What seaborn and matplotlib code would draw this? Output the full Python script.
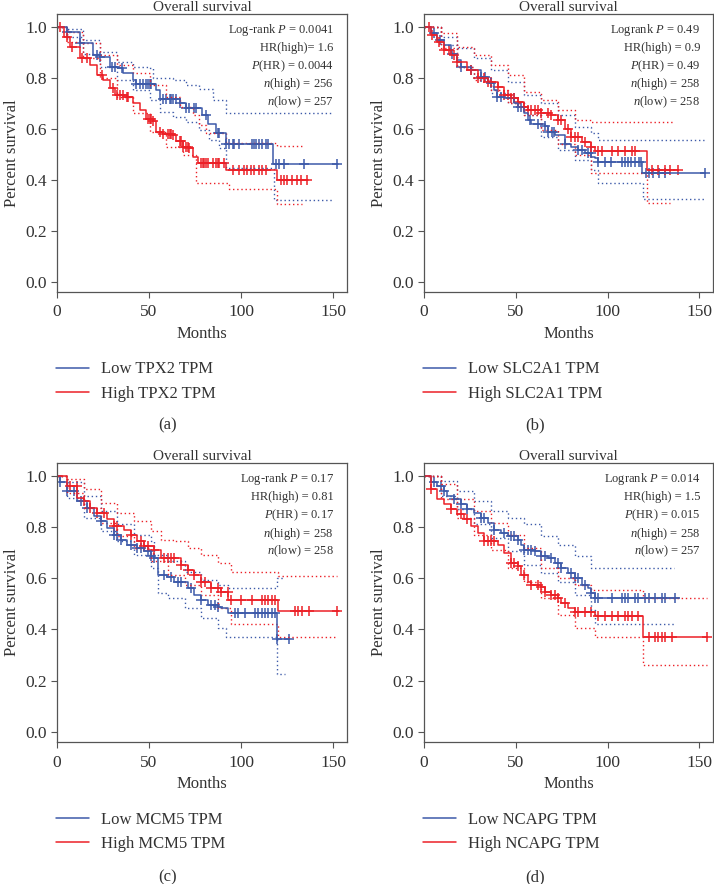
import numpy as np
import matplotlib
matplotlib.use("Agg")
import matplotlib.pyplot as plt
from matplotlib.lines import Line2D
import seaborn as sns

# ---- panel (a) TPX2 ----
a_low_t = [0, 5.4, 12.6, 19.8, 23.4, 28.8, 33.3, 36, 41.4, 43, 54, 56, 66.6, 70, 79, 82, 86.4, 91.8, 117.4, 152.7]
a_low_s = [1.0, 0.978, 0.935, 0.889, 0.882, 0.843, 0.837, 0.817, 0.79, 0.775, 0.75, 0.715, 0.70, 0.68, 0.654, 0.62, 0.585, 0.54, 0.463, 0.463]
a_high_t = [0, 3.6, 7.2, 12.6, 18, 21.6, 25.2, 28.8, 31.5, 37.8, 41.4, 45, 48.6, 52, 54, 57.6, 63, 64.8, 68.4, 72, 73.8, 76.5, 91.8, 119.8, 136.5]
a_high_s = [1.0, 0.96, 0.92, 0.876, 0.85, 0.81, 0.79, 0.758, 0.732, 0.725, 0.70, 0.673, 0.64, 0.63, 0.588, 0.579, 0.575, 0.55, 0.53, 0.523, 0.49, 0.464, 0.44, 0.40, 0.40]
a_low_up_t = [0, 5.4, 14.4, 23.4, 32.4, 41.4, 50.4, 52, 63, 70, 77.4, 84.6, 91.8, 150]
a_low_up_s = [1.0, 0.99, 0.948, 0.90, 0.863, 0.843, 0.837, 0.80, 0.793, 0.77, 0.754, 0.712, 0.66, 0.66]
a_low_lo_t = [0, 5.4, 14.4, 23.4, 32.4, 41.4, 50.4, 55.8, 63, 70, 77.4, 82.8, 88.2, 91.8, 118, 150]
a_low_lo_s = [1.0, 0.96, 0.895, 0.843, 0.79, 0.75, 0.712, 0.667, 0.647, 0.627, 0.595, 0.556, 0.523, 0.445, 0.32, 0.32]
a_high_up_t = [0, 5.4, 14.4, 23.4, 32.4, 41.4, 50.4, 59.4, 66.6, 73.8, 77.4, 81, 91.8, 119.8, 133]
a_high_up_s = [1.0, 0.98, 0.935, 0.889, 0.85, 0.817, 0.771, 0.725, 0.686, 0.654, 0.614, 0.582, 0.545, 0.532, 0.532]
a_high_lo_t = [0, 5.4, 14.4, 23.4, 32.4, 41.4, 50.4, 59.4, 68.4, 75.6, 93.6, 119.8, 133]
a_high_lo_s = [1.0, 0.94, 0.876, 0.80, 0.725, 0.66, 0.588, 0.53, 0.497, 0.388, 0.362, 0.305, 0.305]
a_low_cens = [5.4, 12.6, 21.6, 23.4, 29.7, 31.5, 35.1, 43.2, 45, 46.8, 48.6, 49.5, 50.4, 51.3, 57.6, 59.4, 61.2,
              62.1, 63, 64.8, 66.6, 70.2, 72, 74.7, 75.6, 81, 87.3, 88.2, 91.8, 93.6, 95.4, 96.3, 99, 106.2, 107.1,
              108, 109.9, 111.6, 113.4, 114.4, 118.8, 120.6, 123.4, 134.2, 152.2]
a_high_cens = [1.8, 5.4, 8.1, 13.5, 16.2, 24.3, 30.6, 32.4, 34.2, 36, 37.8, 38.7, 49.5, 50.4, 51.3, 52.2, 55.8, 57.6,
               60.3, 61.2, 62.1, 63, 66.6, 67.5, 68.4, 70.2, 71.1, 72, 78.3, 79.2, 80.1, 81, 81.9, 84.6, 86.4, 87.3,
               88.2, 90.9, 95.4, 99, 101.7, 103.5, 105.3, 107.1, 109.9, 111.6, 113.4, 121.6, 123.4, 125.2, 127.9,
               130.6, 132.4, 136]
a_labels = ["Low TPX2 TPM", "High TPX2 TPM"]
a_stats = [r"Log-rank $P$ = 0.0041", "HR(high)= 1.6", r"$P$(HR) = 0.0044", r"$n$(high) = 256", r"$n$(low) = 257"]

# ---- panel (b) SLC2A1 ----
b_low_t = [0, 3.6, 7.3, 11, 14.6, 18.2, 20, 25.5, 31, 34.7, 38.3, 40, 43.8, 49.3, 51, 54.7, 56.6, 58.4, 65.7, 67.5,
           71.2, 76.6, 80.3, 84, 87.6, 91.2, 93, 95, 118.6, 153]
b_low_s = [1.0, 0.974, 0.948, 0.928, 0.895, 0.869, 0.843, 0.83, 0.804, 0.778, 0.752, 0.725, 0.719, 0.699, 0.686, 0.66,
           0.634, 0.618, 0.61, 0.588, 0.575, 0.542, 0.529, 0.516, 0.503, 0.49, 0.484, 0.468, 0.425, 0.425]
b_high_t = [0, 3.6, 7.3, 11, 14.6, 18.2, 23.7, 29.2, 34.7, 40.1, 43.8, 47.4, 51.1, 54.7, 56.6, 63.9, 69.3, 73, 76.6,
            80.3, 85.8, 91.2, 93.1, 121.4, 138.1]
b_high_s = [1.0, 0.967, 0.941, 0.908, 0.889, 0.863, 0.83, 0.797, 0.784, 0.765, 0.732, 0.719, 0.706, 0.686, 0.673, 0.66,
            0.654, 0.634, 0.60, 0.569, 0.549, 0.529, 0.514, 0.438, 0.438]
b_low_up_t = [0, 9.1, 18.2, 27.4, 36.5, 45.6, 54.7, 63.9, 73, 82.1, 91.2, 94.9, 152.4]
b_low_up_s = [1.0, 0.96, 0.915, 0.876, 0.83, 0.784, 0.732, 0.699, 0.654, 0.608, 0.582, 0.556, 0.556]
b_low_lo_t = [0, 9.1, 18.2, 27.4, 36.5, 45.6, 54.7, 63.9, 73, 82.1, 91.2, 94.9, 119.5, 152.4]
b_low_lo_s = [1.0, 0.928, 0.843, 0.797, 0.739, 0.699, 0.654, 0.569, 0.516, 0.477, 0.438, 0.388, 0.325, 0.325]
b_high_up_t = [0, 9.1, 18.2, 27.4, 36.5, 45.6, 54.7, 63.9, 73, 82.1, 91.2, 135.8]
b_high_up_s = [1.0, 0.974, 0.922, 0.889, 0.85, 0.81, 0.745, 0.712, 0.673, 0.634, 0.627, 0.627]
b_high_lo_t = [0, 9.1, 18.2, 27.4, 36.5, 45.6, 54.7, 63.9, 73, 82.1, 91.2, 121.4, 134.1]
b_high_lo_s = [1.0, 0.915, 0.843, 0.79, 0.752, 0.699, 0.654, 0.595, 0.542, 0.497, 0.425, 0.307, 0.307]
b_low_cens = [5.5, 9, 15, 20, 25.5, 31, 33, 36.5, 40, 42, 49, 51, 53, 58, 62, 66, 67.5, 70, 71, 77, 84, 86, 89.5, 91,
              95, 98.5, 102, 107.7, 109.5, 111, 113, 115, 117, 118, 121, 122.6, 124.5, 128, 131.4, 153]
b_high_cens = [2.7, 4.6, 8.2, 11, 13.7, 16.4, 18.2, 25.5, 29.2, 32.8, 34.7, 36.5, 40.1, 43.8, 45.6, 47.4, 49.3, 51.1,
               54.7, 56.6, 58.4, 60.2, 62, 63.9, 67.5, 69.3, 73, 74.8, 78.5, 80.3, 82.1, 83.9, 87.6, 91.2, 94.9, 96.7,
               102.2, 105.8, 109.5, 113.1, 115, 124.1, 127.7, 131.4, 134.1, 138.1]
b_labels = ["Low SLC2A1 TPM", "High SLC2A1 TPM"]
b_stats = [r"Logrank $P$ = 0.49", "HR(high) = 0.9", r"$P$(HR) = 0.49", r"$n$(high) = 258", r"$n$(low) = 258"]

# ---- panel (c) MCM5 ----
c_low_t = [0, 1.8, 5.5, 11, 16.4, 20, 23.7, 27.3, 31, 34.6, 38.3, 43.7, 47.4, 51, 52.9, 54.7, 60, 63.8, 71, 74.7,
           78.4, 82, 87.5, 89.3, 93, 119.4, 125.7]
c_low_s = [1.0, 0.974, 0.941, 0.90, 0.875, 0.843, 0.823, 0.797, 0.77, 0.75, 0.731, 0.718, 0.705, 0.685, 0.68, 0.613,
           0.603, 0.587, 0.561, 0.535, 0.515, 0.495, 0.489, 0.482, 0.463, 0.364, 0.364]
c_high_t = [0, 5.5, 11, 14.6, 18.2, 21.9, 27.3, 31, 36.5, 40, 43.7, 47.4, 52.9, 56.5, 67.4, 71, 74.7, 78.4, 83.8,
            89.3, 93, 120.3, 153]
c_high_s = [1.0, 0.961, 0.915, 0.90, 0.875, 0.856, 0.83, 0.803, 0.79, 0.77, 0.744, 0.725, 0.712, 0.68, 0.653, 0.633,
            0.613, 0.587, 0.561, 0.548, 0.515, 0.472, 0.472]
c_low_up_t = [0, 5.5, 14.6, 23.7, 32.8, 41.9, 51, 52.9, 60.1, 69.3, 78.4, 87.5, 92.9, 119.4, 123.9]
c_low_up_s = [1.0, 0.974, 0.922, 0.862, 0.81, 0.77, 0.744, 0.692, 0.666, 0.626, 0.593, 0.574, 0.563, 0.60, 0.60]
c_low_lo_t = [0, 5.5, 14.6, 23.7, 32.8, 41.9, 51, 54.7, 60.1, 69.3, 78.4, 87.5, 92, 119.4, 123.9]
c_low_lo_s = [1.0, 0.915, 0.836, 0.784, 0.744, 0.692, 0.64, 0.541, 0.521, 0.482, 0.443, 0.404, 0.371, 0.227, 0.227]
c_high_up_t = [0, 5.5, 14.6, 23.7, 32.8, 41.9, 51, 56.5, 63.8, 71.1, 78.4, 87.5, 94.8, 120.3, 152.2]
c_high_up_s = [1.0, 0.987, 0.948, 0.895, 0.856, 0.823, 0.784, 0.751, 0.744, 0.718, 0.692, 0.659, 0.626, 0.607, 0.607]
c_high_lo_t = [0, 5.5, 14.6, 23.7, 32.8, 41.9, 51, 60.1, 69.3, 78.4, 87.5, 94.8, 120.3, 152.2]
c_high_lo_s = [1.0, 0.934, 0.875, 0.816, 0.764, 0.718, 0.666, 0.613, 0.574, 0.535, 0.482, 0.423, 0.371, 0.371]
c_low_cens = [1.8, 5.5, 9.1, 12.8, 16.4, 23.7, 31, 32.8, 34.6, 40.1, 43.7, 45.6, 49.2, 51, 52.9, 58.3, 62, 65.6,
              67.4, 72.9, 78.4, 83.8, 85.7, 87.5, 96.6, 98.4, 102.1, 107.5, 109.4, 111.2, 113, 114.8, 116.6, 118.5,
              119.4, 125.8]
c_high_cens = [0, 7.3, 10.9, 14.6, 18.2, 21.9, 25.5, 31, 32.8, 40.1, 45.6, 47.4, 49.2, 52.9, 58.3, 60.1, 62, 63.8,
               67.4, 71.1, 74.7, 78.4, 80.2, 83.8, 87.5, 89.3, 92.9, 94.8, 100.2, 105.7, 111.2, 113, 114.8, 116.6,
               118.5, 129.4, 131.2, 133, 136.7, 152.2]
c_labels = ["Low MCM5 TPM", "High MCM5 TPM"]
c_stats = [r"Log-rank $P$ = 0.17", "HR(high) = 0.81", r"$P$(HR) = 0.17", r"$n$(high) = 258", r"$n$(low) = 258"]

# ---- panel (d) NCAPG ----
d_low_t = [0, 3.6, 7.3, 11, 12.8, 16.4, 20, 23.7, 27.4, 31, 34.7, 38.3, 42, 45.6, 51, 53, 54.7, 60.2, 63.9, 67.5,
           71.2, 74.8, 78.5, 82, 85.8, 89.4, 91.2, 93, 138.7]
d_low_s = [1.0, 0.974, 0.961, 0.941, 0.921, 0.908, 0.889, 0.869, 0.856, 0.836, 0.817, 0.79, 0.777, 0.764, 0.751, 0.731,
           0.712, 0.705, 0.685, 0.679, 0.659, 0.64, 0.62, 0.60, 0.574, 0.561, 0.541, 0.522, 0.522]
d_high_t = [0, 3.6, 7.3, 11, 14.6, 18.2, 21.9, 25.5, 29.2, 32.8, 40.1, 43.8, 47.4, 51, 52.9, 56.6, 58.4, 63.9, 65.7,
            69.3, 73, 74.8, 78.5, 82.1, 93, 119.5, 154.2]
d_high_s = [1.0, 0.948, 0.908, 0.889, 0.869, 0.849, 0.83, 0.803, 0.777, 0.744, 0.731, 0.698, 0.659, 0.646, 0.613,
            0.587, 0.574, 0.567, 0.548, 0.535, 0.522, 0.502, 0.482, 0.469, 0.453, 0.37, 0.37]
d_low_up_t = [0, 9.1, 18.2, 27.4, 36.5, 45.6, 54.7, 63.9, 73, 82.1, 91.2, 136]
d_low_up_s = [1.0, 0.98, 0.941, 0.902, 0.862, 0.836, 0.81, 0.764, 0.731, 0.685, 0.64, 0.64]
d_low_lo_t = [0, 9.1, 18.2, 27.4, 36.5, 45.6, 54.7, 63.9, 73, 82.1, 91.2, 93, 136]
d_low_lo_s = [1.0, 0.921, 0.869, 0.81, 0.758, 0.705, 0.653, 0.62, 0.587, 0.535, 0.476, 0.423, 0.423]
d_high_up_t = [0, 9.1, 18.2, 27.4, 36.5, 45.6, 54.7, 63.9, 73, 82.1, 91.2, 119.5, 154.2]
d_high_up_s = [1.0, 0.967, 0.908, 0.862, 0.817, 0.77, 0.718, 0.64, 0.60, 0.574, 0.554, 0.521, 0.521]
d_high_lo_t = [0, 9.1, 18.2, 27.4, 36.5, 45.6, 54.7, 63.9, 73, 82.1, 93, 119.5, 154.2]
d_high_lo_s = [1.0, 0.908, 0.836, 0.77, 0.712, 0.64, 0.587, 0.522, 0.456, 0.404, 0.371, 0.262, 0.262]
d_low_cens = [5.5, 9.1, 11, 16.4, 20.1, 23.7, 31, 32.8, 38.3, 43.8, 47.4, 49.3, 51.1, 54.7, 56.6, 58.4, 60.2, 63.9,
              65.7, 69.3, 73, 74.8, 80.3, 82.1, 83.9, 87.6, 91.2, 93.1, 94.9, 102.2, 107.7, 109.5, 111.3, 115, 116.8,
              120.4, 122.3, 125.9, 129.6, 131.4, 136.9]
d_high_cens = [3.6, 14.6, 20.1, 23.7, 32.8, 34.7, 36.5, 38.3, 47.4, 49.3, 51.1, 54.7, 58.4, 62, 63.9, 65.7, 69.3,
               71.2, 73, 76.6, 82.1, 83.9, 87.6, 91.2, 94.9, 98.5, 102.2, 105.8, 109.5, 111.3, 113.1, 116.8, 122.3,
               125.9, 127.7, 129.6, 131.4, 135, 154.2]
d_labels = ["Low NCAPG TPM", "High NCAPG TPM"]
d_stats = [r"Logrank $P$ = 0.014", "HR(high) = 1.5", r"$P$(HR) = 0.015", r"$n$(high) = 258", r"$n$(low) = 257"]

BLUE = "#3d5aa9"
RED = "#ec2027"

sns.set_style("ticks")
plt.rcParams["font.family"] = ["Liberation Serif", "DejaVu Serif"]
plt.rcParams["mathtext.fontset"] = "custom"
plt.rcParams["mathtext.rm"] = "Liberation Serif"
plt.rcParams["mathtext.it"] = "Liberation Serif:italic"
plt.rcParams["text.color"] = "#333333"


def step_at(times, surv, pts):
    # survival value of the step curve at each censoring time
    idx = np.searchsorted(times, pts, side="right") - 1
    return np.asarray(surv)[idx]


def km_panel(ax, low, high, low_ci, high_ci, low_cens, high_cens, labels, stats):
    for ci, col in ((low_ci, BLUE), (high_ci, RED)):
        for t, s in ci:
            sns.lineplot(x=t, y=s, ax=ax, color=col, lw=1.0, estimator=None, sort=False,
                         drawstyle="steps-post", linestyle=(0, (1, 2)))
    for (t, s), cens, col in ((low, low_cens, BLUE), (high, high_cens, RED)):
        sns.lineplot(x=t, y=s, ax=ax, color=col, lw=1.1, estimator=None, sort=False, drawstyle="steps-post")
        sns.scatterplot(x=cens, y=step_at(t, s, cens), ax=ax, marker="+", color=col, s=50, linewidth=1.1)

    ax.set_xlim(0, 157.5)
    ax.set_ylim(-0.04, 1.05)
    ax.set_xticks([0, 50, 100, 150])
    ax.set_yticks([0.0, 0.2, 0.4, 0.6, 0.8, 1.0])
    ax.set_yticklabels(["0.0", "0.2", "0.4", "0.6", "0.8", "1.0"])
    ax.tick_params(direction="out", length=4, width=0.8, color="#555555", labelsize=12.5,
                   labelcolor="#333333")
    ax.tick_params(axis="x", pad=5)
    ax.tick_params(axis="y", pad=3)
    for sp in ax.spines.values():
        sp.set_color("#555555")
        sp.set_linewidth(0.9)
    ax.set_title("Overall survival", fontsize=11, pad=1, color="#333333")
    ax.set_xlabel("Months", fontsize=12, labelpad=4, color="#333333")
    ax.set_ylabel("Percent survival", fontsize=12, labelpad=4, color="#333333")
    for i, txt in enumerate(stats):
        ax.text(0.955, 0.942 - i * 0.065, txt, transform=ax.transAxes, ha="right", va="center",
                fontsize=9, color="#333333")
    handles = [Line2D([], [], color=BLUE, lw=1.1), Line2D([], [], color=RED, lw=1.1)]
    ax.legend(handles, labels, loc="upper left", bbox_to_anchor=(-0.005, -0.25), frameon=False,
              fontsize=12, handlelength=2.0, handletextpad=0.7, labelspacing=0.5, borderpad=0,
              borderaxespad=0)


fig = plt.figure(figsize=(7.14, 8.84), dpi=100)
ax_a = fig.add_axes([0.0798, 0.6697, 0.406, 0.3145])
ax_b = fig.add_axes([0.5938, 0.6697, 0.405, 0.3145])
ax_c = fig.add_axes([0.0798, 0.1606, 0.406, 0.3156])
ax_d = fig.add_axes([0.5938, 0.1606, 0.405, 0.3156])

km_panel(ax_a, (a_low_t, a_low_s), (a_high_t, a_high_s),
         [(a_low_up_t, a_low_up_s), (a_low_lo_t, a_low_lo_s)],
         [(a_high_up_t, a_high_up_s), (a_high_lo_t, a_high_lo_s)],
         a_low_cens, a_high_cens, a_labels, a_stats)
km_panel(ax_b, (b_low_t, b_low_s), (b_high_t, b_high_s),
         [(b_low_up_t, b_low_up_s), (b_low_lo_t, b_low_lo_s)],
         [(b_high_up_t, b_high_up_s), (b_high_lo_t, b_high_lo_s)],
         b_low_cens, b_high_cens, b_labels, b_stats)
km_panel(ax_c, (c_low_t, c_low_s), (c_high_t, c_high_s),
         [(c_low_up_t, c_low_up_s), (c_low_lo_t, c_low_lo_s)],
         [(c_high_up_t, c_high_up_s), (c_high_lo_t, c_high_lo_s)],
         c_low_cens, c_high_cens, c_labels, c_stats)
km_panel(ax_d, (d_low_t, d_low_s), (d_high_t, d_high_s),
         [(d_low_up_t, d_low_up_s), (d_low_lo_t, d_low_lo_s)],
         [(d_high_up_t, d_high_up_s), (d_high_lo_t, d_high_lo_s)],
         d_low_cens, d_high_cens, d_labels, d_stats)

fig.text(0.234, 1 - 425 / 884, "(a)", ha="center", va="center", fontsize=12)
fig.text(0.749, 1 - 425 / 884, "(b)", ha="center", va="center", fontsize=12)
fig.text(0.234, 1 - 877 / 884, "(c)", ha="center", va="center", fontsize=12)
fig.text(0.749, 1 - 877 / 884, "(d)", ha="center", va="center", fontsize=12)

fig.savefig("out.png", dpi=100)
